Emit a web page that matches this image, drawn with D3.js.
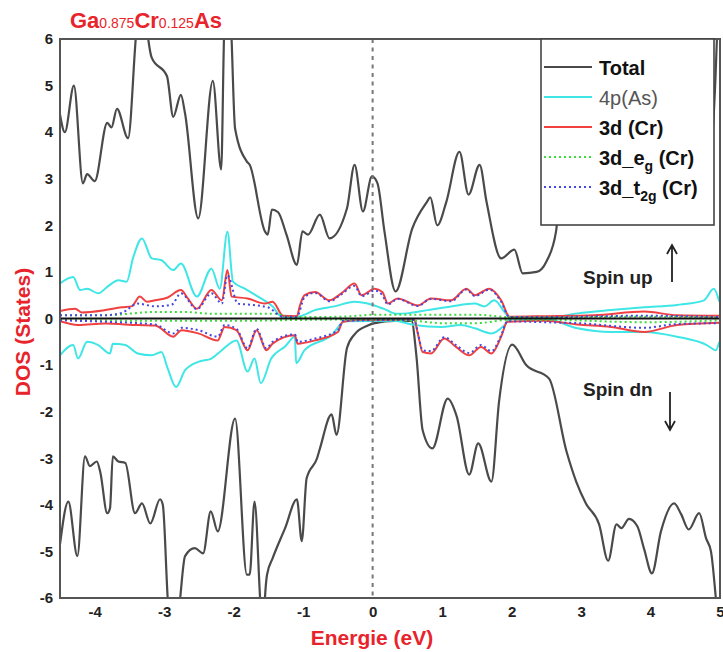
<!DOCTYPE html>
<html lang="en">
<head>
    <meta charset="UTF-8" />
    <title>DOS Ga0.875Cr0.125As</title>
    <script src="https://d3js.org/d3.v7.min.js"></script>
    <style>
        body { margin: 0; background: #fff; }
        svg text { font-family: "Liberation Sans", Arial, sans-serif; }
    </style>
</head>
<body>
    <div id="container"></div>
    <script>
        // values: [energy (eV), DOS (states)]
        const xTicks = [-4, -3, -2, -1, 0, 1, 2, 3, 4, 5]
        const yTicks = [-6, -5, -4, -3, -2, -1, 0, 1, 2, 3, 4, 5, 6]

        const totalUp = [[-4.50,4.38],[-4.43,4.0],[-4.30,5.0],[-4.17,2.9],[-4.11,3.1],[-4.00,2.95],[-3.82,4.2],[-3.76,4.1],[-3.68,4.5],[-3.52,3.87],[-3.41,6.0],[-3.32,7.5],[-3.23,6.0],[-3.18,5.6],[-2.96,5.2],[-2.87,4.33],[-2.76,4.8],[-2.70,4.4],[-2.51,2.15],[-2.30,5.1],[-2.18,3.2],[-2.14,6.0],[-2.08,8.0],[-2.03,6.0],[-1.98,4.08],[-1.81,3.37],[-1.77,3.3],[-1.55,1.87],[-1.51,1.8],[-1.45,2.34],[-1.36,2.28],[-1.24,1.8],[-1.09,1.15],[-1.01,1.87],[-0.93,1.8],[-0.76,2.23],[-0.62,1.72],[-0.37,2.36],[-0.26,3.3],[-0.14,2.3],[-0.01,3.05],[0.07,2.9],[0.17,1.87],[0.33,0.58],[0.57,1.93],[0.78,2.5],[0.83,2.6],[0.93,2.0],[1.06,2.5],[1.25,3.58],[1.38,2.66],[1.54,3.3],[1.64,2.5],[1.85,1.29],[2.04,1.48],[2.16,0.97],[2.36,1.0],[2.50,1.22],[2.64,1.87],[2.69,2.5],[2.9,3.4],[3.3,3.0],[3.7,3.6],[4.1,3.1],[4.5,3.5],[4.85,3.3],[4.93,5.0],[4.97,6.5],[5.0,7.0]]
        const totalDn = [[-4.50,-4.85],[-4.38,-3.93],[-4.25,-5.1],[-4.14,-2.96],[-4.07,-3.17],[-3.97,-3.07],[-3.92,-3.3],[-3.82,-4.18],[-3.78,-4.07],[-3.74,-2.96],[-3.66,-3.07],[-3.56,-3.1],[-3.42,-4.18],[-3.32,-3.97],[-3.20,-4.4],[-3.06,-3.88],[-3.02,-4.0],[-2.95,-6.0],[-2.86,-7.5],[-2.77,-6.0],[-2.70,-5.1],[-2.56,-4.93],[-2.44,-5.04],[-2.33,-4.14],[-2.23,-4.57],[-1.98,-2.15],[-1.81,-5.5],[-1.77,-5.5],[-1.70,-3.93],[-1.62,-6.0],[-1.58,-7.0],[-1.55,-6.0],[-1.52,-5.5],[-1.44,-5.15],[-1.26,-4.5],[-1.09,-3.88],[-1.02,-4.78],[-0.95,-3.43],[-0.80,-3.0],[-0.76,-2.8],[-0.59,-2.06],[-0.52,-2.5],[-0.37,-0.64],[-0.26,-0.34],[-0.07,-0.15],[0.03,-0.1],[0.32,-0.05],[0.56,-0.05],[0.63,-0.8],[0.72,-2.4],[0.86,-2.79],[1.08,-1.72],[1.21,-2.1],[1.39,-3.35],[1.52,-2.68],[1.71,-3.5],[1.82,-1.78],[2.01,-0.56],[2.21,-1.0],[2.54,-1.29],[2.79,-2.85],[2.93,-3.5],[3.07,-3.97],[3.26,-4.42],[3.39,-5.2],[3.51,-4.42],[3.58,-4.5],[3.69,-4.3],[3.81,-4.46],[3.91,-4.96],[4.02,-5.47],[4.15,-4.57],[4.34,-3.97],[4.44,-4.2],[4.55,-4.53],[4.70,-4.18],[4.80,-4.72],[4.87,-5.0],[4.94,-6.0],[5.0,-7.0]]

        const asPUp = [[-4.50,0.75],[-4.31,0.89],[-4.21,0.61],[-4.11,0.64],[-3.95,0.54],[-3.81,0.69],[-3.66,0.82],[-3.54,0.79],[-3.45,1.29],[-3.32,1.72],[-3.18,1.29],[-3.04,1.25],[-2.87,1.04],[-2.76,1.18],[-2.53,0.47],[-2.32,1.07],[-2.20,0.64],[-2.09,1.86],[-2.01,0.79],[-1.84,0.64],[-1.65,0.47],[-1.44,0.26],[-1.31,0.04],[-1.08,0.04],[-0.83,0.18],[-0.55,0.26],[-0.26,0.36],[-0.02,0.3],[0.17,0.2],[0.35,0.1],[0.50,0.11],[0.79,0.18],[1.13,0.26],[1.47,0.32],[1.61,0.26],[1.75,0.39],[1.90,0.14],[1.99,0.0],[2.47,0.0],[2.95,0.11],[3.43,0.18],[3.91,0.24],[4.38,0.29],[4.77,0.39],[4.91,0.64],[4.99,0.36]]
        const asPDn = [[-4.50,-0.79],[-4.31,-0.57],[-4.24,-0.86],[-4.11,-0.5],[-3.95,-0.57],[-3.78,-0.75],[-3.74,-0.54],[-3.56,-0.57],[-3.38,-0.75],[-3.18,-0.79],[-3.04,-0.72],[-2.95,-1.07],[-2.83,-1.47],[-2.70,-1.11],[-2.51,-0.93],[-2.32,-0.86],[-2.17,-0.68],[-1.96,-0.47],[-1.80,-1.14],[-1.70,-0.86],[-1.61,-1.39],[-1.46,-0.86],[-1.26,-0.6],[-1.12,-0.39],[-1.10,-0.96],[-0.98,-0.68],[-0.59,-0.36],[-0.40,-0.06],[0.30,-0.05],[0.60,-0.14],[0.99,-0.18],[1.27,-0.14],[1.47,-0.21],[1.71,-0.32],[1.90,-0.14],[1.99,0.0],[2.47,0.0],[2.95,-0.21],[3.43,-0.29],[3.91,-0.29],[4.38,-0.39],[4.81,-0.57],[4.94,-0.68],[4.99,-0.5]]

        const crDUp = [[-4.50,0.16],[-4.28,0.21],[-4.19,0.13],[-3.85,0.18],[-3.61,0.24],[-3.47,0.26],[-3.35,0.47],[-3.25,0.36],[-3.13,0.39],[-2.95,0.45],[-2.76,0.61],[-2.66,0.43],[-2.53,0.21],[-2.32,0.61],[-2.17,0.39],[-2.09,1.04],[-2.03,0.47],[-1.80,0.43],[-1.55,0.32],[-1.44,0.36],[-1.29,0.06],[-1.09,0.05],[-1.05,0.26],[-0.98,0.5],[-0.83,0.57],[-0.62,0.39],[-0.45,0.54],[-0.26,0.75],[-0.16,0.5],[0.03,0.64],[0.14,0.57],[0.22,0.32],[0.36,0.43],[0.65,0.28],[0.84,0.43],[1.13,0.39],[1.35,0.64],[1.47,0.5],[1.68,0.64],[1.85,0.39],[1.97,0.04],[2.47,0.05],[3.19,0.07],[3.91,0.15],[4.38,0.07],[4.99,0.06]]
        const crDDn = [[-4.50,-0.06],[-4.24,-0.14],[-3.85,-0.11],[-3.38,-0.14],[-3.13,-0.15],[-2.87,-0.39],[-2.75,-0.25],[-2.51,-0.32],[-2.23,-0.47],[-2.13,-0.18],[-1.96,-0.25],[-1.80,-0.68],[-1.67,-0.25],[-1.53,-0.68],[-1.44,-0.54],[-1.12,-0.36],[-1.08,-0.54],[-0.83,-0.47],[-0.50,-0.29],[-0.43,-0.07],[-0.19,-0.03],[0.60,-0.03],[0.65,-0.32],[0.72,-0.72],[0.84,-0.75],[1.03,-0.43],[1.20,-0.61],[1.39,-0.79],[1.56,-0.61],[1.71,-0.75],[1.85,-0.39],[1.94,-0.07],[2.47,-0.05],[2.95,-0.13],[3.43,-0.18],[3.91,-0.29],[4.38,-0.14],[4.99,-0.09]]

        const egUp = [[-4.50,0.07],[-3.85,0.07],[-3.13,0.14],[-2.70,0.14],[-2.30,0.1],[-1.90,0.1],[-1.40,0.1],[-1.20,0.03],[-0.80,0.03],[-0.30,0.05],[0.0,0.08],[0.50,0.08],[1.00,0.08],[1.50,0.08],[1.95,0.03],[2.50,0.02],[3.90,0.04],[5.0,0.02]]
        const egDn = [[-4.50,-0.03],[-3.00,-0.05],[-2.00,-0.05],[-1.00,-0.03],[0.0,-0.02],[0.60,-0.05],[1.00,-0.1],[1.50,-0.1],[1.95,-0.03],[2.50,-0.03],[3.90,-0.08],[5.0,-0.04]]

        const t2gUp = [[-4.50,0.07],[-3.85,0.07],[-3.61,0.12],[-3.38,0.32],[-3.13,0.26],[-2.89,0.3],[-2.76,0.54],[-2.53,0.2],[-2.32,0.54],[-2.17,0.32],[-2.09,0.93],[-1.94,0.32],[-1.80,0.3],[-1.51,0.24],[-1.29,0.04],[-1.09,0.04],[-0.98,0.46],[-0.83,0.55],[-0.62,0.37],[-0.45,0.52],[-0.26,0.7],[-0.16,0.48],[0.03,0.6],[0.14,0.5],[0.22,0.3],[0.36,0.42],[0.65,0.27],[0.84,0.42],[1.13,0.37],[1.35,0.62],[1.47,0.48],[1.68,0.62],[1.85,0.36],[1.97,0.03],[2.47,0.03],[3.91,0.06],[4.99,0.03]]
        const t2gDn = [[-4.50,-0.04],[-3.85,-0.07],[-3.13,-0.13],[-2.87,-0.32],[-2.75,-0.2],[-2.51,-0.25],[-2.23,-0.39],[-2.13,-0.14],[-1.96,-0.22],[-1.80,-0.64],[-1.67,-0.22],[-1.53,-0.64],[-1.44,-0.5],[-1.12,-0.34],[-1.08,-0.5],[-0.83,-0.43],[-0.50,-0.25],[-0.43,-0.05],[0.60,-0.03],[0.65,-0.3],[0.72,-0.68],[0.84,-0.7],[1.03,-0.4],[1.20,-0.57],[1.39,-0.74],[1.56,-0.57],[1.71,-0.7],[1.85,-0.36],[1.94,-0.06],[2.47,-0.08],[2.95,-0.1],[3.91,-0.2],[4.38,-0.12],[4.99,-0.1]]

        const width = 723
        const height = 652

        const svg = d3.select("#container")
            .append("svg")
            .attr("width", width)
            .attr("height", height)

        const x = d3.scaleLinear().domain([-4.5, 5]).range([60, 720])
        const y = d3.scaleLinear().domain([-6, 6]).range([598, 39])

        svg.append("clipPath")
            .attr("id", "plot")
            .append("rect")
            .attr("x", x(-4.5)).attr("y", y(6))
            .attr("width", x(5) - x(-4.5)).attr("height", y(-6) - y(6))

        const series = [
            { data: totalUp, color: "#4a4a4a", width: 2.2, dash: null },
            { data: totalDn, color: "#4a4a4a", width: 2.2, dash: null },
            { data: asPUp, color: "#3fe6e6", width: 2, dash: null },
            { data: asPDn, color: "#3fe6e6", width: 2, dash: null },
            { data: crDUp, color: "#f04040", width: 2, dash: null },
            { data: crDDn, color: "#f04040", width: 2, dash: null },
            { data: egUp, color: "#3cdc3c", width: 2, dash: "2,3" },
            { data: egDn, color: "#3cdc3c", width: 2, dash: "2,3" },
            { data: t2gUp, color: "#4646e0", width: 2, dash: "2,3" },
            { data: t2gDn, color: "#4646e0", width: 2, dash: "2,3" }
        ]

        const line = d3.line()
            .x(d => x(d[0]))
            .y(d => y(d[1]))
            .curve(d3.curveMonotoneX)

        const plot = svg.append("g").attr("clip-path", "url(#plot)")

        series.forEach(s => {
            plot.append("path")
                .datum(s.data)
                .attr("fill", "none")
                .attr("stroke", s.color)
                .attr("stroke-width", s.width)
                .attr("stroke-linejoin", "round")
                .attr("stroke-dasharray", s.dash)
                .attr("d", line)
        })

        // zero line and Fermi level
        plot.append("line")
            .attr("x1", x(-4.5)).attr("x2", x(5))
            .attr("y1", y(0)).attr("y2", y(0))
            .attr("stroke", "#111").attr("stroke-width", 2)

        plot.append("line")
            .attr("x1", x(0)).attr("x2", x(0))
            .attr("y1", y(6)).attr("y2", y(-6))
            .attr("stroke", "#777").attr("stroke-width", 2)
            .attr("stroke-dasharray", "4,4.5")

        // frame
        svg.append("rect")
            .attr("x", x(-4.5)).attr("y", y(6))
            .attr("width", x(5) - x(-4.5)).attr("height", y(-6) - y(6))
            .attr("fill", "none")
            .attr("stroke", "#555")
            .attr("stroke-width", 2)

        // axes
        svg.append("g")
            .attr("transform", `translate(0,${y(-6)})`)
            .call(d3.axisBottom(x).tickValues(xTicks).tickSize(0).tickPadding(8).tickFormat(d => String(d)))
            .call(g => g.select(".domain").remove())
            .call(g => g.selectAll("text")
                .attr("font-size", 15).attr("font-weight", "bold").attr("fill", "#222")
                .style("font-family", "'Liberation Sans', Arial, sans-serif"))

        svg.append("g")
            .attr("transform", `translate(${x(-4.5)},0)`)
            .call(d3.axisLeft(y).tickValues(yTicks).tickSize(0).tickPadding(7).tickFormat(d => String(d)))
            .call(g => g.select(".domain").remove())
            .call(g => g.selectAll("text")
                .attr("font-size", 15).attr("font-weight", "bold").attr("fill", "#222")
                .style("font-family", "'Liberation Sans', Arial, sans-serif"))

        // axis titles
        svg.append("text")
            .attr("x", 372).attr("y", 645)
            .attr("text-anchor", "middle")
            .attr("font-size", 21).attr("font-weight", "bold")
            .attr("fill", "#e8232b")
            .text("Energie (eV)")

        svg.append("text")
            .attr("transform", "translate(30,332)rotate(-90)")
            .attr("text-anchor", "middle")
            .attr("font-size", 21).attr("font-weight", "bold")
            .attr("fill", "#e8232b")
            .text("DOS (States)")

        // compound title
        const title = svg.append("text")
            .attr("x", 70).attr("y", 28)
            .attr("fill", "#e8232b")
            .attr("font-weight", "bold")
        const titleParts = [["Ga", 22, "bold"], ["0.875", 14, "normal"], ["Cr", 22, "bold"], ["0.125", 14, "normal"], ["As", 22, "bold"]]
        titleParts.forEach(p => {
            title.append("tspan").attr("font-size", p[1]).attr("font-weight", p[2]).text(p[0])
        })

        // spin annotations
        svg.append("text")
            .attr("x", 583).attr("y", 284)
            .attr("font-size", 19).attr("font-weight", "bold").attr("fill", "#222")
            .text("Spin up")
        svg.append("text")
            .attr("x", 583).attr("y", 396)
            .attr("font-size", 19).attr("font-weight", "bold").attr("fill", "#222")
            .text("Spin dn")

        const arrow = (xa, y1, y2) => {
            const dir = y2 < y1 ? 1 : -1
            svg.append("path")
                .attr("d", `M${xa},${y1}L${xa},${y2}M${xa - 5},${y2 + dir * 9}L${xa},${y2}L${xa + 5},${y2 + dir * 9}`)
                .attr("fill", "none")
                .attr("stroke", "#222")
                .attr("stroke-width", 1.8)
        }
        arrow(672, 282, 245)
        arrow(670, 392, 430)

        // legend
        const legend = svg.append("g")
        legend.append("rect")
            .attr("x", 541).attr("y", 39)
            .attr("width", 173).attr("height", 186)
            .attr("fill", "#fff")
            .attr("stroke", "#444")
            .attr("stroke-width", 1.6)

        const legendItems = [
            { label: ["Total"], color: "#4a4a4a", dash: null, weight: "bold", fill: "#111" },
            { label: ["4p(As)"], color: "#3fe6e6", dash: null, weight: "normal", fill: "#555" },
            { label: ["3d (Cr)"], color: "#f04040", dash: null, weight: "bold", fill: "#111" },
            { label: ["3d_e", "g", " (Cr)"], color: "#3cdc3c", dash: "2,3", weight: "bold", fill: "#111" },
            { label: ["3d_t", "2g", " (Cr)"], color: "#4646e0", dash: "2,3", weight: "bold", fill: "#111" }
        ]

        legendItems.forEach((item, i) => {
            const ly = 67 + i * 30
            legend.append("line")
                .attr("x1", 544).attr("x2", 592)
                .attr("y1", ly).attr("y2", ly)
                .attr("stroke", item.color)
                .attr("stroke-width", 2.2)
                .attr("stroke-dasharray", item.dash)
            const t = legend.append("text")
                .attr("x", 599).attr("y", ly + 8)
                .attr("font-size", 20)
                .attr("font-weight", item.weight)
                .attr("fill", item.fill)
            t.append("tspan").text(item.label[0])
            if (item.label.length > 1) {
                t.append("tspan").attr("font-size", 14).attr("dy", 6).text(item.label[1])
                t.append("tspan").attr("dy", -6).text(item.label[2])
            }
        })
    </script>
</body>
</html>
